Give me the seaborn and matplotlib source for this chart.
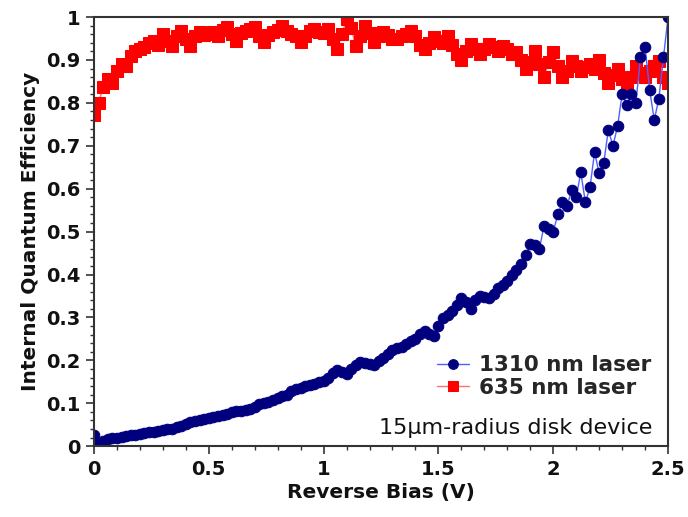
import numpy as np
import pandas as pd
import matplotlib
matplotlib.use("Agg")
import matplotlib.pyplot as plt
import seaborn as sns
from matplotlib.ticker import MultipleLocator

# Reverse bias grid (V)
bias = np.round(np.linspace(0, 2.5, 126), 2)

iqe_635 = [
    0.772, 0.800, 0.838, 0.855, 0.847, 0.875, 0.890, 0.885, 0.910, 0.920,
    0.925, 0.930, 0.940, 0.944, 0.935, 0.960, 0.945, 0.932, 0.955, 0.967,
    0.950, 0.932, 0.955, 0.965, 0.958, 0.960, 0.965, 0.955, 0.970, 0.977,
    0.960, 0.944, 0.962, 0.968, 0.972, 0.977, 0.955, 0.941, 0.958, 0.965,
    0.970, 0.979, 0.968, 0.960, 0.955, 0.941, 0.955, 0.968, 0.972, 0.965,
    0.962, 0.972, 0.950, 0.925, 0.960, 0.995, 0.975, 0.932, 0.955, 0.979,
    0.962, 0.941, 0.955, 0.965, 0.958, 0.950, 0.948, 0.955, 0.960, 0.967,
    0.955, 0.935, 0.925, 0.940, 0.953, 0.945, 0.940, 0.955, 0.935, 0.915,
    0.900, 0.920, 0.937, 0.925, 0.913, 0.925, 0.937, 0.930, 0.920, 0.932,
    0.925, 0.915, 0.918, 0.900, 0.878, 0.895, 0.920, 0.890, 0.860, 0.895,
    0.918, 0.885, 0.860, 0.875, 0.897, 0.885, 0.875, 0.883, 0.890, 0.880,
    0.900, 0.870, 0.847, 0.865, 0.878, 0.855, 0.830, 0.860, 0.885, 0.870,
    0.860, 0.875, 0.885, 0.897, 0.860, 0.847,
]

iqe_1310 = [
    0.026, 0.004, 0.012, 0.016, 0.018, 0.020, 0.022, 0.024, 0.025, 0.027,
    0.028, 0.030, 0.032, 0.034, 0.035, 0.037, 0.039, 0.041, 0.045, 0.048,
    0.052, 0.056, 0.058, 0.061, 0.064, 0.066, 0.068, 0.071, 0.073, 0.076,
    0.079, 0.081, 0.083, 0.085, 0.087, 0.092, 0.098, 0.101, 0.104, 0.108,
    0.112, 0.116, 0.120, 0.128, 0.134, 0.136, 0.140, 0.143, 0.146, 0.150,
    0.152, 0.160, 0.170, 0.178, 0.172, 0.169, 0.180, 0.190, 0.197, 0.194,
    0.192, 0.190, 0.198, 0.206, 0.215, 0.225, 0.228, 0.232, 0.238, 0.244,
    0.250, 0.262, 0.268, 0.262, 0.256, 0.280, 0.298, 0.305, 0.315, 0.330,
    0.345, 0.335, 0.320, 0.340, 0.350, 0.348, 0.345, 0.355, 0.368, 0.375,
    0.385, 0.400, 0.410, 0.425, 0.445, 0.470, 0.468, 0.460, 0.514, 0.505,
    0.500, 0.540, 0.568, 0.560, 0.596, 0.580, 0.638, 0.568, 0.603, 0.685,
    0.636, 0.660, 0.737, 0.700, 0.745, 0.820, 0.795, 0.820, 0.800, 0.906,
    0.930, 0.830, 0.760, 0.810, 0.906, 1.000,
]

labels = ["1310 nm laser", "635 nm laser"]
x_ticks = [0, 0.5, 1, 1.5, 2, 2.5]
x_ticklabels = ["0", "0.5", "1", "1.5", "2", "2.5"]
y_ticks = [0, 0.1, 0.2, 0.3, 0.4, 0.5, 0.6, 0.7, 0.8, 0.9, 1]
y_ticklabels = ["0", "0.1", "0.2", "0.3", "0.4", "0.5", "0.6", "0.7", "0.8", "0.9", "1"]

df = pd.DataFrame({"bias": bias, "iqe635": iqe_635, "iqe1310": iqe_1310})

sns.set_style("white")
plt.rcParams["font.family"] = ["DejaVu Sans"]

fig = plt.figure(figsize=(6.88, 5.17), dpi=100)
ax = fig.add_axes([0.1366, 0.137, 0.8344, 0.830])

sns.lineplot(data=df, x="bias", y="iqe635", ax=ax, color="#ff7070", linewidth=1.0,
             marker="s", markersize=8.3, markerfacecolor="#ff0000",
             markeredgecolor="#ff0000", label=labels[1], legend=False)
sns.lineplot(data=df, x="bias", y="iqe1310", ax=ax, color="#5060ff", linewidth=1.0,
             marker="o", markersize=7.6, markerfacecolor="#00007f",
             markeredgecolor="#00007f", label=labels[0], legend=False)

ax.set_xlim(0, 2.5)
ax.set_ylim(0, 1.0)
ax.set_xticks(x_ticks)
ax.set_xticklabels(x_ticklabels)
ax.set_yticks(y_ticks)
ax.set_yticklabels(y_ticklabels)
ax.xaxis.set_minor_locator(MultipleLocator(0.1))
ax.yaxis.set_minor_locator(MultipleLocator(0.02))
ax.tick_params(axis="both", which="major", direction="out", length=6, width=1.2,
               color="#333333", labelsize=14, pad=4,
               bottom=True, left=True, top=False, right=False)
ax.tick_params(axis="both", which="minor", direction="out", length=3, width=1.0,
               color="#333333", bottom=True, left=True, top=False, right=False)
for lbl in ax.get_xticklabels() + ax.get_yticklabels():
    lbl.set_fontweight("bold")
    lbl.set_color("#111111")

for sp in ax.spines.values():
    sp.set_color("#333333")
    sp.set_linewidth(1.5)
    sp.set_visible(True)

ax.set_xlabel("Reverse Bias (V)", fontsize=14.5, fontweight="bold", color="#111111", labelpad=3)
ax.set_ylabel("Internal Quantum Efficiency", fontsize=14.5, fontweight="bold", color="#111111", labelpad=4)

handles, lbls = ax.get_legend_handles_labels()
order = [lbls.index(labels[0]), lbls.index(labels[1])]
leg = ax.legend([handles[i] for i in order], [lbls[i] for i in order],
                loc="center left", bbox_to_anchor=(0.567, 0.162), frameon=False,
                prop={"size": 15.5, "weight": "bold"}, handlelength=1.5,
                handletextpad=0.45, labelspacing=0.12, borderpad=0.3)
for h in leg.legend_handles:
    h.set_markersize(7)

ax.text(0.972, 0.042, "15µm-radius disk device", transform=ax.transAxes,
        ha="right", va="center", fontsize=16, color="#111111")

fig.savefig("out.png", dpi=100)
